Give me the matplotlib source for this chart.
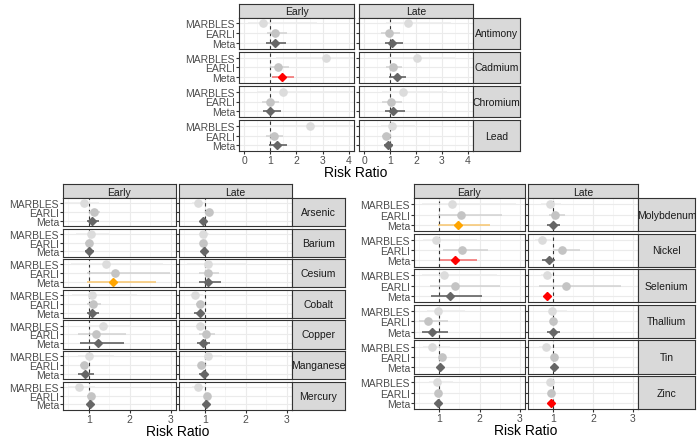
import numpy as np
import matplotlib.pyplot as plt

plt.rcParams["font.family"] = ["Liberation Sans", "DejaVu Sans"]

# study order inside every panel (top to bottom)
studies = ["MARBLES", "EARLI", "Meta"]
periods = ["Early", "Late"]

# ---- top block ----
top_metals = ["Antimony", "Cadmium", "Chromium", "Lead"]
top_early_est = [[0.71, 1.18, 1.16], [3.13, 1.29, 1.44], [1.48, 0.97, 1.00], [2.52, 1.12, 1.25]]
top_early_lo = [[0.15, 0.88, 0.84], [1.20, 1.00, 1.06], [0.50, 0.67, 0.71], [1.00, 0.83, 0.93]]
top_early_hi = [[2.80, 1.64, 1.59], [8.00, 1.70, 1.92], [6.00, 1.34, 1.40], [5.00, 1.50, 1.65]]
top_late_est = [[1.69, 0.95, 1.08], [2.03, 1.10, 1.25], [1.50, 1.02, 1.10], [1.08, 0.86, 0.92]]
top_late_lo = [[0.83, 0.66, 0.80], [0.90, 0.85, 0.95], [0.70, 0.70, 0.80], [0.64, 0.70, 0.77]]
top_late_hi = [[3.34, 1.37, 1.50], [3.50, 1.45, 1.63], [3.20, 1.45, 1.56], [1.97, 1.05, 1.13]]
top_flag_early = ["", "sig", "", ""]
top_flag_late = ["", "", "", ""]

# ---- bottom-left block ----
bl_metals = ["Arsenic", "Barium", "Cesium", "Cobalt", "Copper", "Manganese", "Mercury"]
bl_early_est = [[0.88, 1.13, 1.09], [1.05, 1.00, 1.00], [1.43, 1.64, 1.58], [1.07, 1.11, 1.09],
                [1.35, 1.19, 1.23], [1.00, 0.88, 0.92], [0.76, 1.05, 1.02]]
bl_early_lo = [[0.41, 1.00, 0.96], [0.70, 0.92, 0.90], [0.56, 0.96, 0.96], [0.60, 0.95, 0.96],
               [1.00, 0.74, 0.80], [0.75, 0.78, 0.74], [0.50, 0.95, 0.95]]
bl_early_hi = [[1.25, 1.27, 1.25], [1.50, 1.10, 1.12], [2.80, 2.99, 2.64], [2.17, 1.30, 1.25],
               [2.00, 1.91, 1.86], [1.61, 0.98, 1.13], [1.15, 1.15, 1.10]]
bl_late_est = [[0.84, 1.10, 0.95], [0.95, 0.95, 0.98], [1.07, 1.07, 1.07], [0.77, 0.89, 0.88],
               [0.89, 1.02, 0.96], [1.07, 0.92, 0.98], [0.84, 1.06, 1.02]]
bl_late_lo = [[0.70, 1.00, 0.90], [0.85, 0.90, 0.93], [0.57, 0.85, 0.85], [0.65, 0.80, 0.75],
              [0.80, 0.85, 0.81], [1.00, 0.85, 0.85], [0.70, 1.00, 0.97]]
bl_late_hi = [[1.00, 1.20, 1.02], [1.10, 1.05, 1.03], [2.04, 1.34, 1.39], [0.95, 1.00, 0.98],
              [1.00, 1.26, 1.14], [1.43, 1.00, 1.06], [1.00, 1.12, 1.07]]
bl_flag_early = ["", "", "marg", "", "", "", ""]
bl_flag_late = ["", "", "", "", "", "", ""]

# ---- bottom-right block ----
br_metals = ["Molybdenum", "Nickel", "Selenium", "Thallium", "Tin", "Zinc"]
br_early_est = [[1.31, 1.53, 1.46], [0.92, 1.56, 1.39], [1.13, 1.38, 1.27],
                [0.96, 0.71, 0.82], [0.82, 1.07, 1.02], [0.94, 0.97, 0.97]]
br_early_lo = [[0.58, 0.96, 0.96], [0.60, 1.10, 1.02], [0.58, 0.76, 0.80],
               [0.70, 0.50, 0.58], [0.60, 1.00, 0.96], [0.75, 0.90, 0.93]]
br_early_hi = [[2.91, 2.56, 2.25], [1.93, 2.20, 1.93], [2.42, 2.50, 2.05],
               [1.64, 1.22, 1.21], [1.27, 1.15, 1.08], [1.35, 1.05, 1.01]]
br_late_est = [[0.93, 1.06, 1.00], [0.73, 1.22, 0.89], [0.85, 1.32, 0.85],
               [0.98, 1.00, 1.00], [0.83, 1.03, 1.02], [0.92, 0.96, 0.96]]
br_late_lo = [[0.70, 0.90, 0.85], [0.55, 1.00, 0.73], [0.70, 0.64, 0.80],
              [0.90, 0.92, 0.85], [0.64, 0.95, 0.97], [0.85, 0.90, 0.93]]
br_late_hi = [[1.20, 1.30, 1.18], [0.95, 1.68, 1.06], [1.00, 2.69, 0.90],
              [1.35, 1.10, 1.18], [0.96, 1.10, 1.07], [1.00, 1.03, 0.99]]
br_flag_early = ["marg", "sig", "", "", "", ""]
br_flag_late = ["", "", "sig", "", "", "sig"]

W, H = 700, 439
fig = plt.figure(figsize=(7, 4.39), dpi=100)


def box(x, y, w, h):
    return [x / W, 1 - (y + h) / H, w / W, h / H]


pt_col = {"MARBLES": "#DCDCDC", "EARLI": "#C4C4C4", "Meta": "#666666"}
ln_col = {"MARBLES": "#EDEDED", "EARLI": "#D2D2D2", "Meta": "#555555"}
flag_col = {"sig": ("#FF0000", "#F26B6B"), "marg": ("#FFA500", "#F7C66E")}


def draw_block(metals, early, late, flags, cols, top, row_h, gap, strip_w, xlim, ticks, minor):
    for j, (period, (cx, cw)) in enumerate(zip(periods, cols)):
        est, lo, hi = [np.array(a) for a in (early if j == 0 else late)]
        sax = fig.add_axes(box(cx, top - 14, cw, 14))
        sax.set_facecolor("#D9D9D9")
        sax.set_xticks([]); sax.set_yticks([])
        for s in sax.spines.values():
            s.set_color("#333333"); s.set_linewidth(0.8)
        sax.text(0.5, 0.45, period, ha="center", va="center", fontsize=7.5, color="#1A1A1A",
                 transform=sax.transAxes)
        for i, metal in enumerate(metals):
            y = top + i * (row_h + gap)
            ax = fig.add_axes(box(cx, y, cw, row_h))
            ax.set_xlim(*xlim)
            ax.set_ylim(0.4, 3.6)
            ax.set_xticks(ticks)
            ax.set_xticks(minor, minor=True)
            ax.set_yticks([3, 2, 1])
            ax.grid(True, which="major", color="#EBEBEB", lw=0.8)
            ax.grid(True, which="minor", axis="x", color="#F3F3F3", lw=0.5)
            ax.set_axisbelow(True)
            ax.axvline(1, color="#333333", lw=0.8, ls=(0, (3, 3)), zorder=2)
            flag = flags[j][i]
            for k, st in enumerate(studies):
                yy = 3 - k
                pc, lc = pt_col[st], ln_col[st]
                if st == "Meta" and flag:
                    pc, lc = flag_col[flag]
                ax.plot([lo[i, k], hi[i, k]], [yy, yy], color=lc, lw=1.1, zorder=3,
                        solid_capstyle="butt")
                ax.plot(est[i, k], yy, marker="D" if st == "Meta" else "o",
                        ms=4.2 if st == "Meta" else 5.2, color=pc, mec=pc, zorder=4)
            for s in ax.spines.values():
                s.set_color("#333333"); s.set_linewidth(0.8)
            ax.tick_params(which="both", length=2, color="#333333", labelsize=7.5,
                           labelcolor="#4D4D4D", pad=0.8)
            ax.tick_params(which="minor", length=0)
            if j == 0:
                ax.set_yticklabels(studies)
            else:
                ax.tick_params(axis="y", labelleft=False)
            if i == len(metals) - 1:
                ax.set_xticklabels([str(t) for t in ticks])
            else:
                ax.tick_params(axis="x", length=0, labelbottom=False)
            if j == 1:
                rax = fig.add_axes(box(cx + cw, y, strip_w, row_h))
                rax.set_facecolor("#D9D9D9")
                rax.set_xticks([]); rax.set_yticks([])
                for s in rax.spines.values():
                    s.set_color("#333333"); s.set_linewidth(0.8)
                rax.text(0.5, 0.5, metal, ha="center", va="center", fontsize=7.5,
                         color="#1A1A1A", transform=rax.transAxes)
    bottom = top + len(metals) * row_h + (len(metals) - 1) * gap
    xc = (cols[0][0] + cols[1][0] + cols[1][1]) / 2
    fig.text(xc / W, 1 - (bottom + 14) / H, "Risk Ratio", ha="center", va="top",
             fontsize=10, color="#000000")


draw_block(top_metals,
           (top_early_est, top_early_lo, top_early_hi),
           (top_late_est, top_late_lo, top_late_hi),
           (top_flag_early, top_flag_late),
           [(239, 115), (359, 114)], 18.5, 31.6, 2.5, 47,
           (-0.2, 4.2), [0, 1, 2, 3, 4], [0.5, 1.5, 2.5, 3.5])

draw_block(bl_metals,
           (bl_early_est, bl_early_lo, bl_early_hi),
           (bl_late_est, bl_late_lo, bl_late_hi),
           (bl_flag_early, bl_flag_late),
           [(63, 113), (179, 113)], 199, 28.1, 2.5, 53,
           (0.375, 3.125), [1, 2, 3], [0.5, 1.5, 2.5])

draw_block(br_metals,
           (br_early_est, br_early_lo, br_early_hi),
           (br_late_est, br_late_lo, br_late_hi),
           (br_flag_early, br_flag_late),
           [(414, 111), (528, 110)], 199, 33.1, 2.5, 57,
           (0.375, 3.125), [1, 2, 3], [0.5, 1.5, 2.5])

fig.savefig("out.png", dpi=100, facecolor="white")
